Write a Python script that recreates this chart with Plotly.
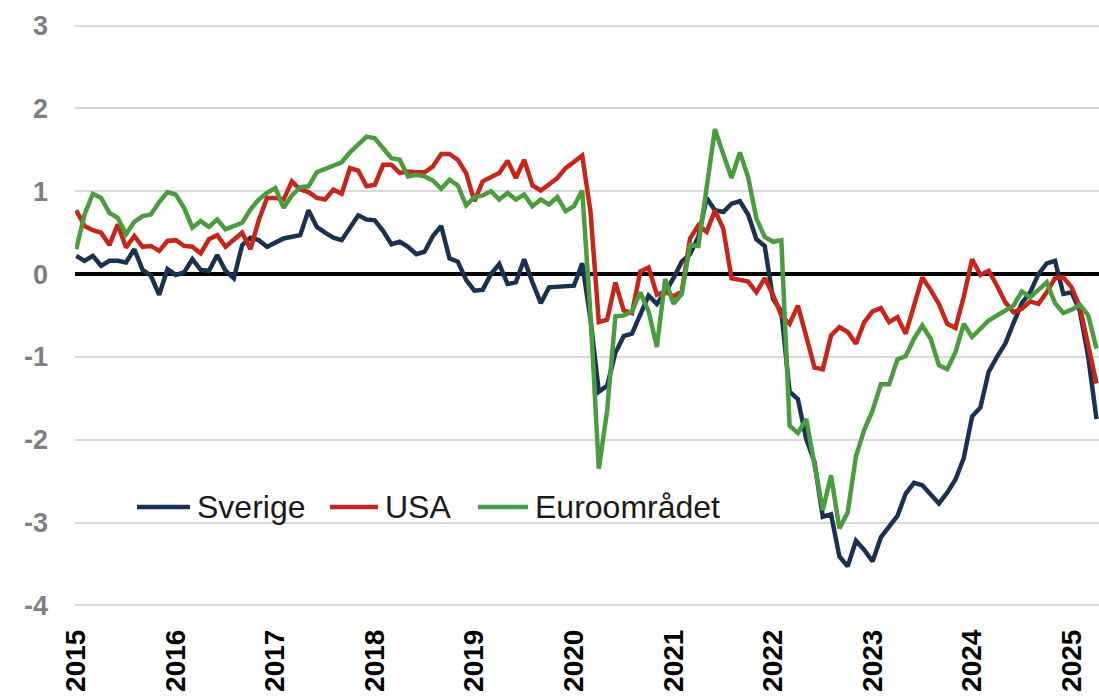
import plotly.graph_objects as go

# Monthly data, Jan 2015 - Apr 2025 (124 months)
sverige = [
    0.22, 0.16, 0.22, 0.10, 0.16, 0.16, 0.14, 0.30, 0.05, -0.02, -0.25, 0.06,
    -0.01, 0.02, 0.18, 0.05, 0.04, 0.23, 0.04, -0.05, 0.35, 0.44, 0.41, 0.33,
    0.38, 0.43, 0.45, 0.47, 0.77, 0.57, 0.50, 0.44, 0.41, 0.57, 0.71, 0.66,
    0.65, 0.52, 0.36, 0.39, 0.33, 0.24, 0.27, 0.46, 0.58, 0.19, 0.15, -0.07,
    -0.20, -0.19, 0.00, 0.12, -0.12, -0.10, 0.18, -0.10, -0.35, -0.16, -0.15, -0.15,
    -0.14, 0.13, -0.55, -1.42, -1.35, -0.95, -0.75, -0.72, -0.48, -0.26, -0.36, -0.22,
    -0.05, 0.15, 0.24, 0.45, 0.92, 0.77, 0.75, 0.85, 0.88, 0.72, 0.42, 0.34,
    -0.30, -0.45, -1.42, -1.51, -1.99, -2.27, -2.93, -2.90, -3.41, -3.53, -3.22, -3.33,
    -3.47, -3.18, -3.05, -2.92, -2.65, -2.52, -2.55, -2.67, -2.77, -2.64, -2.48, -2.22,
    -1.72, -1.61, -1.18, -1.00, -0.84, -0.59, -0.35, -0.22, 0.00, 0.13, 0.16, -0.24,
    -0.22, -0.45, -1.00, -1.75,
]

usa = [
    0.77, 0.58, 0.53, 0.50, 0.35, 0.60, 0.32, 0.46, 0.33, 0.34, 0.28, 0.40,
    0.41, 0.34, 0.33, 0.25, 0.42, 0.47, 0.33, 0.42, 0.50, 0.30, 0.65, 0.92,
    0.92, 0.90, 1.12, 1.02, 0.99, 0.92, 0.90, 1.02, 0.97, 1.28, 1.25, 1.06,
    1.08, 1.32, 1.32, 1.22, 1.24, 1.23, 1.23, 1.30, 1.45, 1.45, 1.38, 1.22,
    0.88, 1.12, 1.17, 1.22, 1.37, 1.16, 1.38, 1.07, 1.01, 1.08, 1.16, 1.28,
    1.35, 1.43, 0.75, -0.58, -0.55, -0.10, -0.44, -0.47, 0.03, 0.08, -0.25, -0.21,
    -0.27, -0.21, 0.43, 0.59, 0.51, 0.77, 0.55, -0.05, -0.07, -0.09, -0.22, -0.05,
    -0.25, -0.50, -0.60, -0.38, -0.75, -1.13, -1.15, -0.74, -0.64, -0.70, -0.84, -0.58,
    -0.45, -0.41, -0.58, -0.52, -0.72, -0.39, -0.04, -0.19, -0.36, -0.60, -0.65, -0.27,
    0.18, -0.01, 0.04, -0.14, -0.34, -0.46, -0.42, -0.33, -0.36, -0.22, -0.05, -0.04,
    -0.16, -0.40, -0.85, -1.32,
]

euro = [
    0.30, 0.72, 0.97, 0.92, 0.74, 0.68, 0.48, 0.63, 0.70, 0.72, 0.87, 0.99,
    0.96, 0.80, 0.56, 0.64, 0.57, 0.66, 0.54, 0.58, 0.62, 0.78, 0.90, 0.98,
    1.04, 0.80, 0.95, 1.05, 1.06, 1.23, 1.27, 1.31, 1.35, 1.47, 1.56, 1.66,
    1.64, 1.52, 1.40, 1.38, 1.18, 1.20, 1.18, 1.13, 1.03, 1.14, 1.07, 0.83,
    0.93, 0.95, 1.00, 0.90, 0.98, 0.90, 0.96, 0.82, 0.90, 0.84, 0.93, 0.76,
    0.82, 1.01, -0.50, -2.35, -1.65, -0.51, -0.50, -0.45, -0.22, -0.45, -0.88, -0.06,
    -0.36, -0.24, 0.35, 0.34, 1.00, 1.75, 1.45, 1.16, 1.47, 1.17, 0.67, 0.45,
    0.39, 0.41, -1.83, -1.92, -1.75, -2.27, -2.85, -2.43, -3.07, -2.88, -2.20, -1.88,
    -1.65, -1.33, -1.33, -1.03, -0.99, -0.78, -0.62, -0.78, -1.10, -1.15, -0.94, -0.60,
    -0.76, -0.66, -0.56, -0.50, -0.44, -0.38, -0.21, -0.28, -0.19, -0.10, -0.35, -0.47,
    -0.43, -0.37, -0.50, -0.90,
]

years = ["2015", "2016", "2017", "2018", "2019", "2020",
         "2021", "2022", "2023", "2024", "2025"]
series_names = ["Sverige", "USA", "Euroområdet"]
colors = ["#1b3152", "#c8251a", "#4a9c3f"]

months = list(range(len(sverige)))
year_pos = [12 * k for k in range(len(years))]

FONT = "Liberation Sans, Arial, sans-serif"

fig = go.Figure()
for name, vals, col in zip(series_names, [sverige, usa, euro], colors):
    fig.add_trace(go.Scatter(
        x=months, y=vals, mode="lines", name=name,
        line=dict(color=col, width=4.5),
        showlegend=False, hoverinfo="skip",
    ))

# Legend drawn inside the plot (line sample + label), Excel style
legend_x = [(0.0605, 0.1123, 0.1172), (0.2490, 0.2959, 0.3008), (0.3936, 0.4424, 0.4473)]
legend_y = 0.1715
for (x0, x1, xt), name, col in zip(legend_x, series_names, colors):
    fig.add_shape(type="line", xref="paper", yref="paper",
                  x0=x0, x1=x1, y0=legend_y, y1=legend_y,
                  line=dict(color=col, width=4.5))
    fig.add_annotation(xref="paper", yref="paper", x=xt, y=legend_y,
                       text=name, showarrow=False, xanchor="left", yanchor="middle",
                       font=dict(family=FONT, size=32, color="#1a1a1a"))

fig.update_layout(
    width=1099, height=699,
    paper_bgcolor="white", plot_bgcolor="white",
    margin=dict(l=75, r=0, t=24, b=92),
    font=dict(family=FONT),
    showlegend=False,
)

fig.update_xaxes(
    range=[-0.15, 123.3],
    tickmode="array", tickvals=year_pos, ticktext=years,
    tickangle=-90,
    tickfont=dict(family=FONT, size=28, color="#000000", weight="bold"),
    showgrid=False, zeroline=False, showline=False, ticks="",
    ticklabelstandoff=16,
)

fig.update_yaxes(
    range=[-4.02, 3.02],
    tickmode="array", tickvals=list(range(-4, 4)),
    ticktext=[str(v) for v in range(-4, 4)],
    tickfont=dict(family=FONT, size=27, color="#7f7f7f", weight="bold"),
    showgrid=True, gridcolor="#d9d9d9", gridwidth=1.5,
    zeroline=True, zerolinecolor="#000000", zerolinewidth=3.5,
    showline=False, ticks="",
    ticklabelstandoff=26,
)

fig.write_html("out.html", config={"displayModeBar": False},
               post_script="document.body.style.margin='0';")
